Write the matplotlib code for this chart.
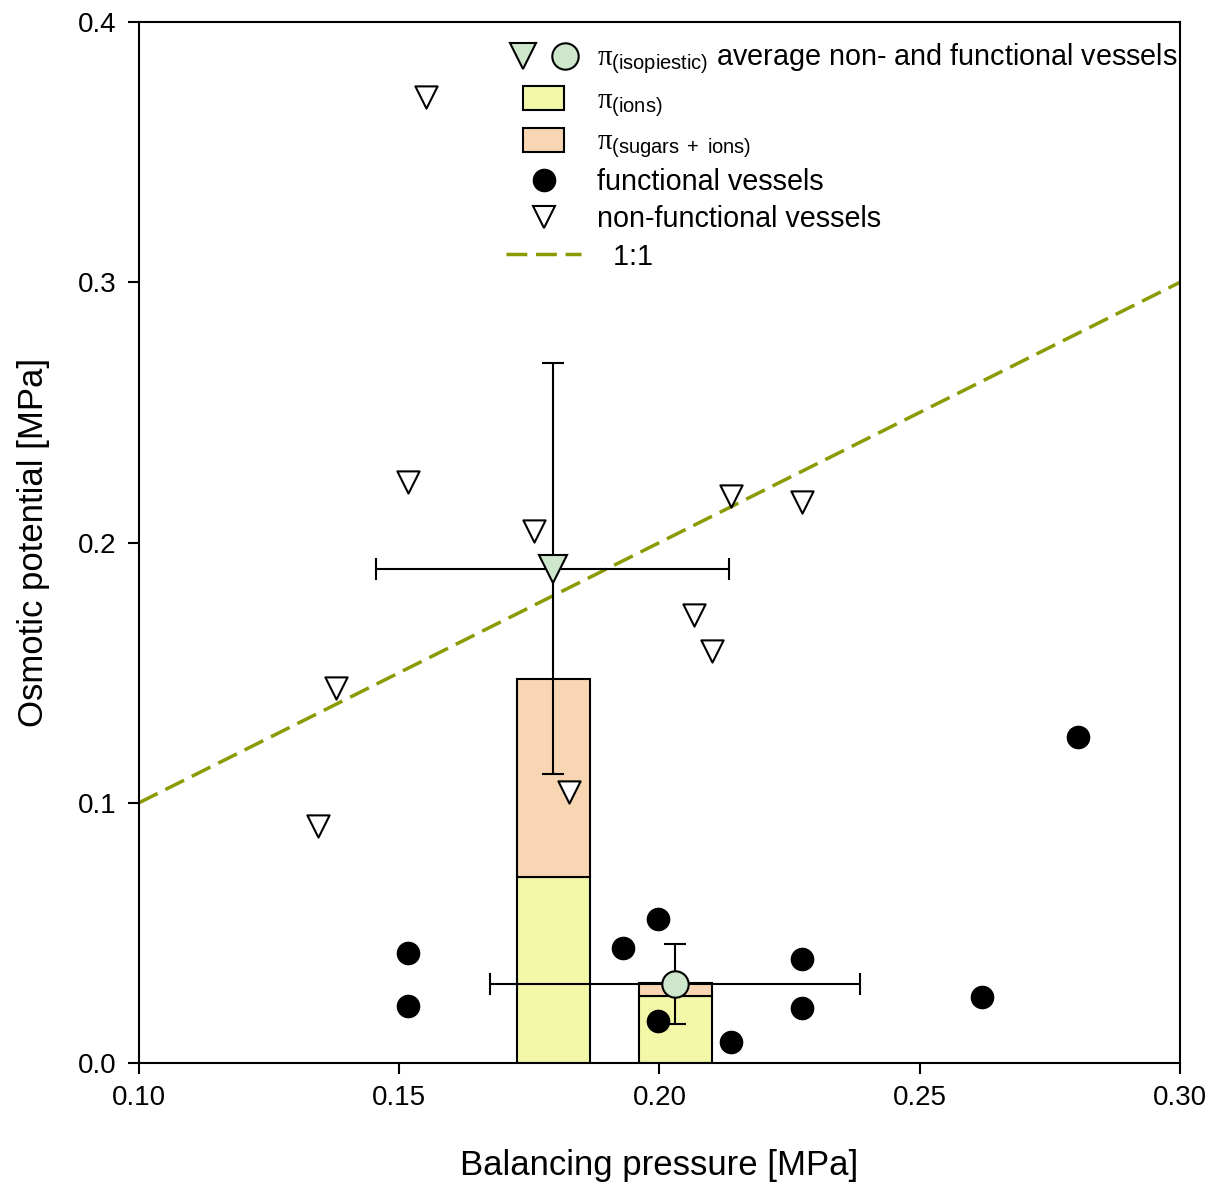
import matplotlib.pyplot as plt
from matplotlib.lines import Line2D
from matplotlib.patches import Patch, Rectangle
from matplotlib.legend_handler import HandlerTuple, HandlerPatch

plt.rcParams['font.family'] = ['Liberation Sans', 'DejaVu Sans']
plt.rcParams['mathtext.fontset'] = 'custom'
plt.rcParams['mathtext.rm'] = 'Liberation Sans'
plt.rcParams['mathtext.it'] = 'Liberation Serif'

# non-functional vessels (triangles)
nonfunc_x = [0.1551, 0.1517, 0.1759, 0.2137, 0.2274, 0.2066, 0.2101, 0.1379, 0.1344, 0.1826]
nonfunc_y = [0.371, 0.2232, 0.2044, 0.2179, 0.2156, 0.1721, 0.1583, 0.1441, 0.0911, 0.1041]

# functional vessels (circles)
func_x = [0.1517, 0.1517, 0.1930, 0.1997, 0.1997, 0.2137, 0.2274, 0.2274, 0.2620, 0.2804]
func_y = [0.0423, 0.0219, 0.0442, 0.0553, 0.0161, 0.0081, 0.0400, 0.0211, 0.0254, 0.1253]

# averages: non-functional, functional
avg_x = [0.1795, 0.2030]
avg_y = [0.190, 0.0304]
avg_xerr = [0.0339, 0.0355]
avg_yerr = [0.079, 0.0155]

# stacked bars of osmotic potential components
bar_x = [0.1796, 0.2031]
bar_ions = [0.0715, 0.0257]
bar_total = [0.1476, 0.0307]
bar_width = 0.014

line_x = [0.10, 0.30]
line_y = [0.10, 0.30]

col_ions = '#f3f8a8'
col_sugar = '#f8d6b3'
col_avg = '#cde6cc'
col_line = '#8c9a00'


def small_box(legend, orig_handle, xdescent, ydescent, width, height, fontsize):
    w = width * 0.55
    return Rectangle((-xdescent + (width - w) / 2, -ydescent - 0.15 * height), w, height * 1.2)


def main():
    fig = plt.figure(figsize=(12.16, 11.9), dpi=100)
    ax = fig.add_axes([0.1143, 0.1067, 0.8561, 0.8748])

    sugar = [t - i for t, i in zip(bar_total, bar_ions)]
    ax.bar(bar_x, bar_ions, width=bar_width, color=col_ions, edgecolor='black', linewidth=1.5, zorder=1)
    ax.bar(bar_x, sugar, bottom=bar_ions, width=bar_width, color=col_sugar, edgecolor='black', linewidth=1.5, zorder=1)

    ax.plot(line_x, line_y, ls=(0, (6, 2.5)), color=col_line, lw=2.5, zorder=2)

    ax.scatter(func_x, func_y, s=16**2, c='black', zorder=3)
    ax.scatter(nonfunc_x, nonfunc_y, s=16**2, marker='v', facecolor='white', edgecolor='black', linewidth=1.5, zorder=3)

    ax.errorbar(avg_x[0], avg_y[0], xerr=avg_xerr[0], yerr=avg_yerr[0], fmt='v', ms=20,
                mfc=col_avg, mec='black', mew=1.5, ecolor='black', elinewidth=1.5, capsize=8, capthick=1.5, zorder=4)
    ax.errorbar(avg_x[1], avg_y[1], xerr=avg_xerr[1], yerr=avg_yerr[1], fmt='o', ms=19,
                mfc=col_avg, mec='black', mew=1.5, ecolor='black', elinewidth=1.5, capsize=8, capthick=1.5, zorder=4)

    ax.set_xlim(0.10, 0.30)
    ax.set_ylim(0.0, 0.4)
    ax.set_xticks([0.10, 0.15, 0.20, 0.25, 0.30])
    ax.set_xticklabels(['0.10', '0.15', '0.20', '0.25', '0.30'])
    ax.set_yticks([0.0, 0.1, 0.2, 0.3, 0.4])
    ax.set_yticklabels(['0.0', '0.1', '0.2', '0.3', '0.4'])
    ax.tick_params(direction='out', length=8, width=1.5, labelsize=20, pad=8)
    for sp in ax.spines.values():
        sp.set_linewidth(1.5)

    ax.set_xlabel('Balancing pressure [MPa]', fontsize=25, labelpad=27)
    ax.set_ylabel('Osmotic potential [MPa]', fontsize=25, labelpad=20)

    h_tri = Line2D([], [], marker='v', ls='none', ms=19, mfc=col_avg, mec='black', mew=1.5)
    h_circ = Line2D([], [], marker='o', ls='none', ms=19, mfc=col_avg, mec='black', mew=1.5)
    h_ions = Patch(facecolor=col_ions, edgecolor='black', linewidth=1.5)
    h_sugar = Patch(facecolor=col_sugar, edgecolor='black', linewidth=1.5)
    h_func = Line2D([], [], marker='o', ls='none', ms=16, color='black')
    h_non = Line2D([], [], marker='v', ls='none', ms=16, mfc='white', mec='black', mew=1.5)
    h_line = Line2D([], [], ls=(0, (6, 2.5)), color=col_line, lw=2.5)

    handles = [(h_tri, h_circ), h_ions, h_sugar, h_func, h_non, h_line]
    labels = [r'$\pi_{\mathrm{(isopiestic)}}$ average non- and functional vessels',
              r'$\pi_{\mathrm{(ions)}}$',
              r'$\pi_{\mathrm{(sugars\ +\ ions)}}$',
              'functional vessels',
              'non-functional vessels',
              '  1:1']
    ax.legend(handles, labels, loc='upper right', bbox_to_anchor=(1.017, 1.0), frameon=False,
              fontsize=20.7, handlelength=2.6, handletextpad=0.55, labelspacing=0.32, borderaxespad=0.3,
              handler_map={tuple: HandlerTuple(ndivide=None, pad=0.3),
                           Patch: HandlerPatch(patch_func=small_box)})

    fig.savefig('out.png', dpi=100)


if __name__ == '__main__':
    main()
